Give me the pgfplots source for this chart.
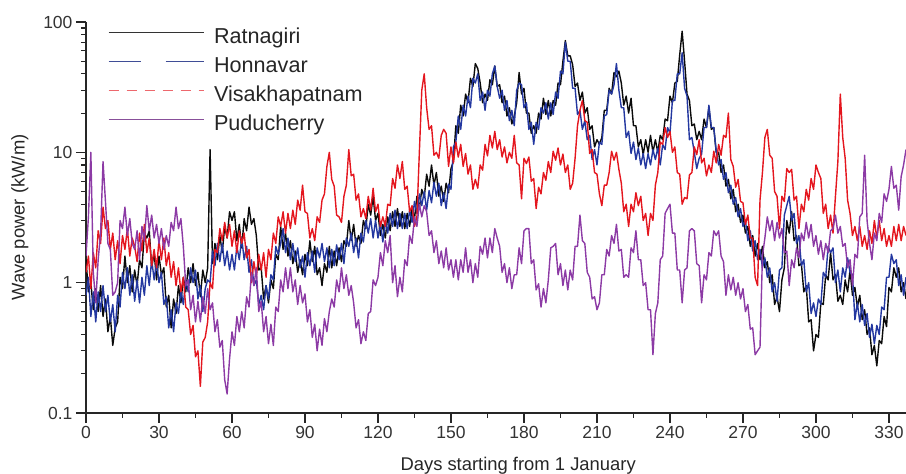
\documentclass[border=0pt]{standalone}
\usepackage{pgfplots}
\pgfplotsset{compat=1.18}
\usepackage{pgfplotstable}
\usepackage{fontspec}
\setmainfont{Liberation Sans}
\usetikzlibrary{calc}
\definecolor{cR}{RGB}{10,10,10}
\definecolor{cH}{RGB}{35,55,160}
\definecolor{cV}{RGB}{228,22,30}
\definecolor{cP}{RGB}{140,58,165}
\pgfplotstableread{
d R H V P
0 1.5 0.8 1.2 1.6
1 0.85 1.1 1.6 3.2
2 1.0 0.55 0.9 10.0
3 0.62 0.85 1.7 1.2
4 0.9 0.5 1.3 0.7
5 0.6 0.85 2.5 1.5
6 0.95 0.6 2.0 2.4
7 0.55 0.95 3.8 8.5
8 0.75 0.6 2.6 4.2
9 0.42 0.8 3.0 2.0
10 0.55 0.5 1.8 1.8
11 0.33 0.68 2.4 0.8
12 0.45 0.42 1.5 0.85
13 0.5 0.8 2.1 1.0
14 1.1 0.65 1.4 3.0
15 0.9 1.2 2.3 2.6
16 1.6 0.9 1.8 3.8
17 1.0 1.3 2.6 2.3
18 1.35 0.8 1.6 3.1
19 0.85 1.15 2.2 2.0
20 1.25 0.72 1.9 1.8
21 0.95 1.05 1.45 2.5
22 1.5 0.7 2.4 1.5
23 1.3 1.1 1.75 2.7
24 2.4 0.8 2.8 2.1
25 2.2 1.35 1.7 3.9
26 2.5 0.95 2.2 2.5
27 1.3 1.5 1.35 3.3
28 1.7 1.05 1.8 2.2
29 1.05 1.45 1.3 2.8
30 1.6 1.0 2.1 2.0
31 1.15 1.2 1.5 2.6
32 1.3 0.68 2.2 1.8
33 0.65 0.78 1.35 2.3
34 0.8 0.45 1.7 1.9
35 0.45 0.62 1.1 2.9
36 0.75 0.42 1.45 2.5
37 0.58 0.7 0.95 3.8
38 0.95 0.58 1.3 2.6
39 0.7 0.88 0.85 3.1
40 1.1 0.68 1.1 1.9
41 0.85 1.05 0.65 0.95
42 1.3 0.85 0.62 1.05
43 1.0 1.3 0.4 0.62
44 1.4 1.0 0.47 0.8
45 0.95 1.25 0.27 0.5
46 1.2 0.75 0.3 0.72
47 0.78 0.95 0.16 0.5
48 1.25 0.6 0.35 0.78
49 1.0 0.9 0.38 0.58
50 1.3 1.05 0.5 0.9
51 10.5 1.0 1.0 0.62
52 1.4 1.75 0.9 0.7
53 2.0 1.35 1.8 0.42
54 1.5 2.0 1.7 0.52
55 2.3 1.45 2.6 0.32
56 1.7 2.0 2.1 0.36
57 2.7 1.35 2.9 0.18
58 2.2 1.75 2.2 0.14
59 3.5 1.25 2.8 0.26
60 3.0 1.65 1.9 0.42
61 3.5 1.25 2.5 0.33
62 2.1 1.9 1.7 0.55
63 2.8 1.5 2.5 0.42
64 1.85 2.2 2.0 0.6
65 3.1 1.5 2.4 0.45
66 2.5 1.9 1.55 0.78
67 3.8 1.2 1.8 0.65
68 2.8 1.5 1.0 1.2
69 3.1 0.95 1.45 0.95
70 2.3 1.05 1.1 1.3
71 1.25 0.68 1.65 0.6
72 1.3 0.8 1.25 0.72
73 0.75 0.62 1.7 0.42
74 0.95 0.95 1.1 0.55
75 0.7 0.75 1.8 0.34
76 1.05 1.15 1.5 0.48
77 0.9 1.05 2.4 0.33
78 1.65 1.9 2.0 0.65
79 1.5 1.65 3.2 0.6
80 2.7 2.0 2.7 1.05
81 1.8 2.6 3.5 0.85
82 2.4 1.7 2.4 1.3
83 1.6 2.2 3.4 0.9
84 2.1 1.5 2.6 1.3
85 1.4 2.0 3.6 0.85
86 1.75 1.45 2.8 1.05
87 1.2 1.85 4.3 0.68
88 1.5 1.3 3.6 0.95
89 1.15 1.6 5.6 0.7
90 1.65 1.1 3.5 0.82
91 1.35 1.7 3.4 0.5
92 2.1 1.35 2.2 0.62
93 1.45 1.75 2.6 0.38
94 1.9 1.2 2.1 0.48
95 1.15 1.85 3.2 0.3
96 1.3 1.55 2.9 0.44
97 0.95 2.0 4.3 0.33
98 1.4 1.45 4.8 0.53
99 1.2 1.85 7.8 0.42
100 1.9 1.3 10.0 0.6
101 1.3 1.8 6.2 0.75
102 1.75 1.35 5.5 0.65
103 1.35 1.95 3.3 1.05
104 1.85 1.5 3.2 0.85
105 1.45 2.0 2.9 1.3
106 2.1 1.4 4.6 0.9
107 1.9 2.2 5.6 1.15
108 3.0 1.9 10.5 0.8
109 2.1 2.4 6.6 0.95
110 2.8 1.7 6.8 0.7
111 1.9 2.2 4.3 0.45
112 2.3 1.55 4.8 0.52
113 2.0 2.4 3.2 0.34
114 3.0 2.05 3.7 0.42
115 2.6 3.0 3.1 0.36
116 4.0 2.4 4.6 0.58
117 3.3 3.1 3.6 0.6
118 4.6 2.2 5.3 1.05
119 3.0 3.0 3.5 0.95
120 3.4 2.2 4.0 1.1
121 2.3 2.9 2.7 1.7
122 2.8 2.05 3.2 1.35
123 2.2 3.0 2.7 2.1
124 3.2 2.4 4.0 1.7
125 2.5 3.4 3.9 2.3
126 3.5 2.7 6.3 1.0
127 2.7 3.6 5.3 1.35
128 3.7 2.6 8.0 0.78
129 2.7 3.4 6.3 1.1
130 3.5 2.6 8.5 0.85
131 2.6 3.4 5.2 1.5
132 3.4 2.6 5.5 1.35
133 2.7 3.6 3.5 2.3
134 3.7 2.9 3.9 2.0
135 3.1 4.2 2.7 3.2
136 4.6 3.4 3.2 2.7
137 3.7 4.8 10 4.0
138 5.2 3.9 30 3.2
139 4.5 5.0 40 3.9
140 6.8 3.6 22 3.5
141 5.5 5.1 15 2.3
142 8.0 4.1 16 2.5
143 5.6 5.9 9.5 1.7
144 7.0 4.6 10 2.1
145 4.6 5.8 9.0 1.4
146 5.5 3.9 13.5 1.75
147 4.2 4.9 15 1.3
148 5.8 3.7 14 1.85
149 4.9 5.7 7.8 1.25
150 7.5 5.2 11 1.5
151 8.5 11 8.3 1.1
152 16 12 12 1.5
153 14 19 9.2 1.05
154 23 15 11.5 1.5
155 19 23 7.8 1.2
156 28 19 9.8 1.85
157 24 27 6.8 1.2
158 37 22 8.0 1.5
159 32 37 5.2 1.0
160 48 34 6.2 1.4
161 44 40 5.3 1.1
162 34 25 8.0 1.9
163 24 29 7.3 1.65
164 28 21 11.5 2.2
165 25 30 9.4 1.55
166 36 27 13.5 2.2
167 33 40 10.8 1.7
168 46 46 14.5 2.6
169 32 32 10.5 2.2
170 33 26 12.5 1.9
171 24 30 9.2 1.2
172 27 21 11 1.4
173 19 25 8.3 1.0
174 22 17.5 10 1.3
175 16.5 21 9.0 0.9
176 19 16 13.5 1.15
177 24 30 8.3 1.15
178 41 34 8.0 1.85
179 28 33 4.4 1.4
180 31 22 9.0 2.5
181 20 24 8.2 2.6
182 20 15 9.2 2.6
183 14 17 6.0 1.4
184 16 11.5 6.3 1.5
185 14 17 3.7 0.88
186 20 15 5.4 0.98
187 18 22 4.8 0.65
188 26 20 7.0 0.9
189 19.5 24 6.1 0.7
190 25 18 8.5 1.05
191 19 24 7.0 1.85
192 25 19.5 10.2 1.9
193 23 29 8.7 2.0
194 34 26 10.8 1.15
195 33 42 8.0 1.4
196 50 40 9.7 0.95
197 72 70 7.0 1.25
198 55 50 8.0 0.88
199 55 50 5.2 1.25
200 47 31 5.8 1.05
201 32 31 9.0 1.9
202 34 19.5 16 1.9
203 25 21 21 3.3
204 29 15 25 2.1
205 20 17.5 17.5 2.0
206 22 12.5 17 1.2
207 15 13.5 9.8 1.1
208 16 8.8 10.5 0.75
209 11 10.5 7.0 0.78
210 12.5 8.0 6.8 0.62
211 11.5 12 4.8 0.7
212 13 11.5 3.9 1.15
213 21 19 5.6 1.15
214 21 19.5 5.6 1.8
215 31 30 7.0 1.6
216 28 28 10.2 2.3
217 41 33 8.7 2.0
218 38 48 10 2.8
219 42 30 7.4 1.75
220 34 22 5.8 1.8
221 23 22 3.5 1.1
222 27 13 4.0 1.15
223 20 14.5 2.7 1.1
224 26 9.8 4.0 1.85
225 16 12 3.5 1.7
226 16 8.8 4.9 2.5
227 11 10.8 3.9 1.5
228 12.5 8.0 4.6 1.5
229 9.6 9.8 3.0 0.95
230 12.5 7.5 3.4 1.0
231 10 9.8 2.3 0.62
232 13.5 8.0 3.4 0.62
233 10 10.5 3.0 0.28
234 12.5 8.8 5.6 0.58
235 10 10.8 7.0 0.7
236 13.5 8.0 12 1.5
237 12.5 11.5 11.5 1.6
238 18 10.5 15.5 3.4
239 17.5 15.5 13 3.7
240 27 14 14.5 4.0
241 24 25 10 2.4
242 34 25 11 2.4
243 35 40 7.0 1.25
244 56 40 6.8 1.25
245 85 58 4.0 0.7
246 50 31 4.5 1.25
247 28 27 4.4 1.3
248 25 12.5 6.7 2.5
249 16 13 7.0 2.6
250 16.5 10 11 2.5
251 12.5 7.5 9.6 1.4
252 14.5 9 12.5 1.35
253 12.5 9.7 8.3 0.7
254 18 15.5 9.0 1.15
255 15.5 15.5 6.6 1.05
256 22 23 8.0 1.7
257 15 15.5 7.0 1.6
258 15.5 15.5 10.2 2.5
259 10 10.2 8.3 2.3
260 10 8 11.5 2.5
261 7 8.8 9.5 1.6
262 8 6.2 13.5 1.45
263 5.5 7 13 0.8
264 6.2 4.9 20 1.15
265 4.4 5.6 8.8 0.88
266 5.2 4.0 7.8 1.1
267 3.5 4.5 5.4 0.8
268 4.0 3.2 6.2 1.0
269 2.9 3.7 4.2 0.75
270 3.3 2.7 4.1 0.9
271 2.4 3.0 2.8 0.6
272 2.7 2.1 3.3 0.68
273 1.9 2.5 2.2 0.44
274 2.3 1.75 2.2 0.45
275 1.6 2.1 1.1 0.28
276 2.0 1.5 0.95 0.3
277 1.5 1.8 4.3 0.32
278 1.9 1.3 7 1.6
279 1.3 1.55 13 2.2
280 1.45 1.1 15 3.2
281 1.0 1.3 9.5 2.5
282 1.15 0.85 9.0 3.0
283 0.68 1.0 5.0 2.1
284 0.78 0.72 4.6 2.9
285 0.6 1.25 2.6 2.2
286 1.05 1.3 4.6 2.6
287 1.3 3.3 4.2 1.7
288 3.0 3.9 7.5 1.75
289 2.4 4.6 7.0 0.95
290 3.5 3.0 7.4 1.5
291 2.1 3.4 4.3 1.3
292 2.3 2.0 4.6 1.85
293 1.35 2.3 2.6 1.55
294 1.4 1.35 4.0 2.4
295 0.85 1.5 3.5 2.1
296 0.95 0.85 5.2 2.9
297 0.5 1.0 4.3 2.2
298 0.52 0.58 6.3 2.8
299 0.3 0.7 5.2 1.9
300 0.4 0.55 8.0 2.3
301 0.38 0.75 7.0 1.65
302 0.7 0.68 6.3 2.1
303 0.68 1.2 3.4 1.5
304 1.15 1.1 4.0 2.0
305 1.05 1.9 2.6 1.7
306 1.7 1.7 3.3 2.5
307 1.05 1.85 2.4 2.6
308 1.15 1.0 4.6 3.3
309 0.72 1.25 8.5 2.4
310 0.8 0.85 28 2.7
311 0.68 1.3 13 1.9
312 1.05 1.1 9.0 2.0
313 0.85 1.55 4.3 1.3
314 1.25 1.2 3.4 1.5
315 0.8 1.15 2.3 0.95
316 0.92 0.52 2.7 1.65
317 0.65 0.7 2.1 1.55
318 0.8 0.5 2.7 3.2
319 0.52 0.68 1.9 3.4
320 0.62 0.47 2.3 9.5
321 0.4 0.58 1.8 3.0
322 0.45 0.38 2.5 2.0
323 0.28 0.48 2.0 1.5
324 0.33 0.34 3.0 2.4
325 0.23 0.47 2.2 2.1
326 0.36 0.4 3.0 3.4
327 0.34 0.65 2.1 2.9
328 0.55 0.62 2.6 4.8
329 0.46 1.1 1.9 4.2
330 0.92 1.1 2.3 5.2
331 0.85 1.65 1.9 7.8
332 1.3 1.4 2.7 5.3
333 1.1 1.5 2.1 5.6
334 1.3 0.95 2.8 3.6
335 0.85 1.15 2.1 6.5
336 1.0 0.8 2.7 8.0
337 0.75 1.1 2.3 10.5
}\wavedata
\begin{document}
\begin{tikzpicture}
\begin{axis}[
  scale only axis, width=820pt, height=391pt,
  xmin=0, xmax=337, ymin=0.1, ymax=100, ymode=log,
  axis x line*=bottom, axis y line*=left,
  axis line style={line width=1.3pt, color=black!85},
  tick style={line width=1.1pt, color=black!85},
  tick align=outside,
  major tick length=10pt, minor tick length=5pt,
  xtick={0,30,...,330}, minor x tick num=1,
  ytick={0.1,1,10,100}, yticklabels={0.1,1,10,100},
  /pgf/number format/assume math mode=true,
  ticklabel style={font=\fontsize{17.5}{20}\selectfont, text=black!80},
  xlabel={Days starting from 1 January}, ylabel={Wave power (kW/m)},
  every axis x label/.style={at={(axis description cs:0.527,-0.135)}, anchor=center, font=\fontsize{18.4}{22}\selectfont, text=black!85},
  every axis y label/.style={at={(axis description cs:-0.0805,0.5)}, rotate=90, anchor=center, font=\fontsize{18.4}{22}\selectfont, text=black!85},
  legend style={at={(axis description cs:0.0268,0.987)}, anchor=north west, draw=none, fill=none,
    inner sep=0pt, row sep=8pt,
    nodes={font=\fontsize{21.6}{26}\selectfont, inner sep=0pt, text height=16pt, text depth=5pt, text=black!85},
    /tikz/every odd column/.append style={column sep=10pt}},
  legend cell align=left,
  legend image code/.code={\draw[#1] (0pt,5pt) -- (95pt,5pt);},
]
\addplot[cR, line width=1.4pt, line join=round, forget plot] table[x=d,y=R]{\wavedata};
\addplot[cH, line width=1.4pt, line join=round, forget plot] table[x=d,y=H]{\wavedata};
\addplot[cV, line width=1.4pt, line join=round, forget plot] table[x=d,y=V]{\wavedata};
\addplot[cP, line width=1.4pt, line join=round, forget plot] table[x=d,y=P]{\wavedata};
\addlegendimage{black!80, line width=0.9pt}
\addlegendentry{Ratnagiri}
\addlegendimage{cH!70!gray, line width=0.9pt, dash pattern=on 32pt off 25pt on 38pt off 10pt}
\addlegendentry{Honnavar}
\addlegendimage{cV!65, line width=0.9pt, dash pattern=on 10pt off 8pt}
\addlegendentry{Visakhapatnam}
\addlegendimage{cP!70!gray, line width=0.9pt}
\addlegendentry{Puducherry}
\end{axis}
\pgfresetboundingbox
\path ($(current axis.south west)+(-86pt,-61pt)$) rectangle ($(current axis.north east)+(0pt,22pt)$);
\end{tikzpicture}
\end{document}
